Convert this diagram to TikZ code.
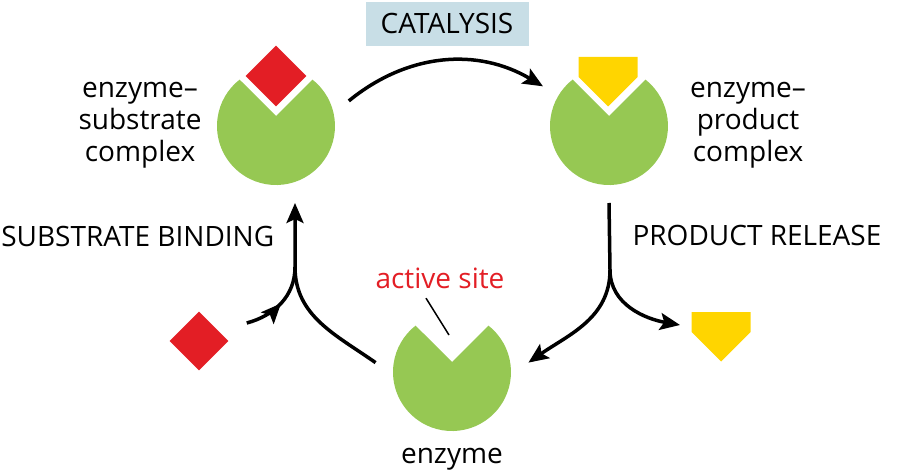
\documentclass[tikz,border=0pt]{standalone}
\usepackage{fontspec}
\setmainfont{Open Sans}
\setsansfont{Open Sans}
\usetikzlibrary{arrows.meta, shapes.geometric, decorations.markings}
\definecolor{cgreen}{HTML}{96C853}
\definecolor{cred}{HTML}{E31E25}
\definecolor{cyellow}{HTML}{FFD500}
\definecolor{cbox}{HTML}{C8DEE6}
\tikzset{
  every picture/.style={font=\sffamily, line width=3.5pt},
  enz/.style={circle, minimum size=118pt, inner sep=0pt, outer sep=18pt},
  sub/.style={diamond, fill=cred, inner sep=0pt, minimum size=#1},
  txt/.style={font=\sffamily\fontsize{28}{32}\selectfont, align=center, inner sep=0pt},
  titlebox/.style={txt, fill=cbox, minimum width=163pt, minimum height=44pt},
  conn/.style={draw=black, line width=3.5pt},
  arrow/.style={conn, -{Stealth[length=20pt, width=17pt, inset=4pt]}},
  midarrow/.style={postaction={decorate}, decoration={markings,
      mark=at position 0.5 with {\arrow{Stealth[length=20pt, width=17pt, inset=4pt]}}}},
  pointer/.style={draw=black, line width=1.5pt},
}
\begin{document}
\begin{tikzpicture}[x=1pt, y=1pt]
  \useasboundingbox (0,0) rectangle (899,469);
  % enzymes: radius 59, notch opening upward with its point 10 above the centre
  \node[enz] (es) at (276,343) {};
  \node[enz] (ep) at (609,343) {};
  \node[enz] (e) at (452,97) {};
  \foreach \n in {es,ep,e} {
    \fill[cgreen] (\n.center) ++(0,10) -- ++(36.4,36.4)
      arc[start angle=51.9, end angle=-231.9, radius=59] -- cycle;
  }
  % substrate (diamonds) and product (pentagons)
  \node[sub=62pt] (bound) at (276,393) {};
  \node[sub=60pt] (free) at (199,128) {};
  \foreach \x/\y in {608/412, 721/157} {
    \fill[cyellow] (\x-29.5,\y) -- ++(59,0) -- ++(0,-20) -- ++(-29.5,-29.5)
      -- ++(-29.5,29.5) -- cycle;
  }
  \coordinate (bind) at (295,202);
  \coordinate (rel) at (610,199);
  \coordinate (prodtip) at (680,144);
  \coordinate (sitetip) at (449,134);
  % labels
  \node[titlebox] (cat) at (447,445) {CATALYSIS};
  \node[txt] (eslab) at (140,344) {enzyme--\\substrate\\complex};
  \node[txt] (eplab) at (748,344) {enzyme--\\product\\complex};
  \node[txt, anchor=east] (bindlab) at (276,233) {SUBSTRATE BINDING};
  \node[txt] (rellab) at (757,234) {PRODUCT RELEASE};
  \node[txt, text=cred] (site) at (440,191) {active site};
  \node[txt, anchor=base] (elab) at (452,6) {enzyme};
  % cycle arrows
  \draw[arrow] (es.19) to[bend left=35] (ep.149);
  \draw[arrow] (e.173) to[out=145, in=-90] (bind) -- (bind |- es.south);
  \draw[conn, midarrow] ([shift={(16,18)}]free.east) to[out=15, in=-90] (bind);
  \draw[conn] (ep.south) -- (rel);
  \draw[arrow] (rel) to[out=-90, in=35] (e.7);
  \draw[arrow] (rel) to[out=-90, in=170] (prodtip);
  \draw[pointer] ([shift={(-14,-8)}]site.south) -- (sitetip);
\end{tikzpicture}
\end{document}
